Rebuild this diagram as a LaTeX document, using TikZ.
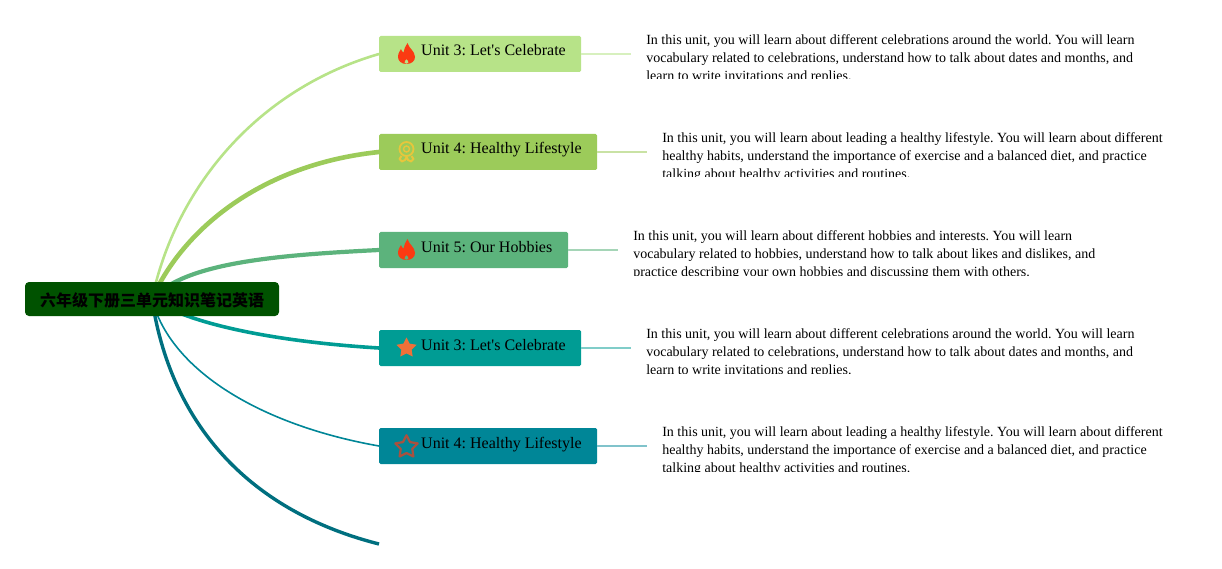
\documentclass[tikz,border=0pt]{standalone}
\usepackage{fontspec}
\usepackage{xcolor}
\usetikzlibrary{positioning,backgrounds}
\newfontfamily\unitfont{Liberation Serif}
\newfontfamily\cjk{Noto Sans CJK SC}
\definecolor{Root}{HTML}{005200}
\definecolor{LimeA}{HTML}{B7E388}
\definecolor{LimeB}{HTML}{9CCB5A}
\definecolor{Jade}{HTML}{5CB37C}
\definecolor{TealA}{HTML}{009C94}
\definecolor{TealB}{HTML}{008697}
\definecolor{TealC}{HTML}{006F7F}
\definecolor{Flame}{HTML}{FB3A12}
\definecolor{Medal}{HTML}{E7C63C}
\definecolor{StarA}{HTML}{EE7038}
\definecolor{StarB}{HTML}{A9513F}

\begin{document}
\frenchspacing
\begin{tikzpicture}[x=1pt,y=-1pt,
    rootbox/.style={rounded corners=4pt,fill=Root,minimum width=254pt,minimum height=34pt,inner sep=0pt,text height=18pt,text depth=3pt,font=\cjk\bfseries\fontsize{16}{18}\selectfont},
    unitbox/.style={rounded corners=1.5pt,minimum height=36pt,inner sep=0pt,anchor=west},
    unitlabel/.style={inner sep=0pt,text height=11pt,text depth=3.5pt,font=\unitfont\fontsize{16}{18}\selectfont},
    desc/.style={anchor=west,minimum width=545pt,minimum height=50pt,inner sep=0pt,
      path picture={\node[anchor=north west,minimum width=0pt,minimum height=0pt,inner sep=0pt,align=left,font=\unitfont\fontsize{14}{18}\selectfont,xshift=14.5pt,yshift=-5pt] at (path picture bounding box.north west) {#1};}},
    branch/.style={line cap=round},
    stub/.style={line width=1.6pt},
    flame/.pic={\fill[Flame,even odd rule] (1,-11) .. controls (2,-6) and (8.5,-3) .. (8.5,3) .. controls (8.5,7) and (5,10) .. (0,10) .. controls (-5,10) and (-8.5,7) .. (-8.5,3) .. controls (-8.5,-1) and (-6.5,-3) .. (-5.5,-5) .. controls (-5,-3) and (-4,-2) .. (-3,-1.5) .. controls (-2.5,-5) and (-1,-8) .. (1,-11) -- cycle (0,5) .. controls (-1,6) and (-2,7) .. (-2,8.5) .. controls (-2,10) and (2,10) .. (2,8.5) .. controls (2,7) and (1,6) .. (0,5) -- cycle;},
    medal/.pic={\draw[Medal,line width=1.8pt] (0,-3) circle (7pt); \draw[Medal,line width=1.4pt] (0,-3) circle (3pt); \draw[Medal,line width=2pt,line join=round] (-5,4) -- (-7,7) -- (-4.5,9.5) -- (-1.5,8) -- (0,5) -- (1.5,8) -- (4.5,9.5) -- (7,7) -- (5,4);},
    starpath/.pic={\path[pic actions,line join=round] (0,-10.5) -- (3.17,-4.37) -- (10,-3.24) -- (5.14,1.67) -- (6.17,8.5) -- (0,5.4) -- (-6.17,8.5) -- (-5.14,1.67) -- (-10,-3.24) -- (-3.17,-4.37) -- cycle;}]

  \node[rootbox] (root) at (152,299) {六年级下册三单元知识笔记英语};
  \coordinate (hub) at (152,299);

  \node[unitbox,fill=LimeA,minimum width=202pt] (unitA) at (379,54) {};
  \node[unitbox,fill=LimeB,minimum width=218pt] (unitB) at (379,152) {};
  \node[unitbox,fill=Jade,minimum width=189pt] (unitC) at (379,250) {};
  \node[unitbox,fill=TealA,minimum width=202pt] (unitD) at (379,348) {};
  \node[unitbox,fill=TealB,minimum width=218pt] (unitE) at (379,446) {};
  \coordinate (tail) at (379,544);

  \node[unitlabel,right=42pt of unitA.west,yshift=1.75pt] (labelA) {Unit 3: Let's Celebrate};
  \node[unitlabel,right=42pt of unitB.west,yshift=1.75pt] (labelB) {Unit 4: Healthy Lifestyle};
  \node[unitlabel,right=42pt of unitC.west,yshift=1.75pt] (labelC) {Unit 5: Our Hobbies};
  \node[unitlabel,right=42pt of unitD.west,yshift=1.75pt] (labelD) {Unit 3: Let's Celebrate};
  \node[unitlabel,right=42pt of unitE.west,yshift=1.75pt] (labelE) {Unit 4: Healthy Lifestyle};

  \pic[xshift=27.5pt] at (unitA.west) {flame};
  \pic[xshift=27.5pt] at (unitB.west) {medal};
  \pic[xshift=27.5pt] at (unitC.west) {flame};
  \pic[xshift=27.5pt,fill=StarA] at (unitD.west) {starpath};
  \pic[xshift=27.5pt,yshift=-1pt,scale=1.12,draw=StarB,line width=2.2pt] at (unitE.west) {starpath};

  \node[desc={In this unit, you will learn about different celebrations around the world. You will learn\\vocabulary related to celebrations, understand how to talk about dates and months, and\\learn to write invitations and replies.},right=50pt of unitA.east] (descA) {};
  \node[desc={In this unit, you will learn about leading a healthy lifestyle. You will learn about different\\healthy habits, understand the importance of exercise and a balanced diet, and practice\\talking about healthy activities and routines.},right=50pt of unitB.east] (descB) {};
  \node[desc={In this unit, you will learn about different hobbies and interests. You will learn\\vocabulary related to hobbies, understand how to talk about likes and dislikes, and\\practice describing your own hobbies and discussing them with others.},right=50pt of unitC.east] (descC) {};
  \node[desc={In this unit, you will learn about different celebrations around the world. You will learn\\vocabulary related to celebrations, understand how to talk about dates and months, and\\learn to write invitations and replies.},right=50pt of unitD.east] (descD) {};
  \node[desc={In this unit, you will learn about leading a healthy lifestyle. You will learn about different\\healthy habits, understand the importance of exercise and a balanced diet, and practice\\talking about healthy activities and routines.},right=50pt of unitE.east] (descE) {};

  \draw[stub,draw=LimeA!55] (unitA) -- (descA);
  \draw[stub,draw=LimeB!55] (unitB) -- (descB);
  \draw[stub,draw=Jade!55] (unitC) -- (descC);
  \draw[stub,draw=TealA!50] (unitD) -- (descD);
  \draw[stub,draw=TealB!50] (unitE) -- (descE);

  \begin{scope}[on background layer]
    \useasboundingbox (0,0) rectangle (1222,569);
    \draw[branch,LimeA,line width=2.6pt] (hub) .. controls (175,190) and (255,90) .. (unitA.west);
    \draw[branch,LimeB,line width=4.6pt] (hub) .. controls (180,235) and (255,165) .. (unitB.west);
    \draw[branch,Jade,line width=4.2pt] (hub) .. controls (185,262) and (280,255) .. (unitC.west);
    \draw[branch,TealA,line width=3.6pt] (hub) .. controls (190,325) and (280,342) .. (unitD.west);
    \draw[branch,TealB,line width=1.6pt] (hub) .. controls (170,370) and (260,425) .. (unitE.west);
    \draw[TealC,line width=3.4pt] (hub) .. controls (170,420) and (245,510) .. (tail);
  \end{scope}
\end{tikzpicture}
\end{document}
